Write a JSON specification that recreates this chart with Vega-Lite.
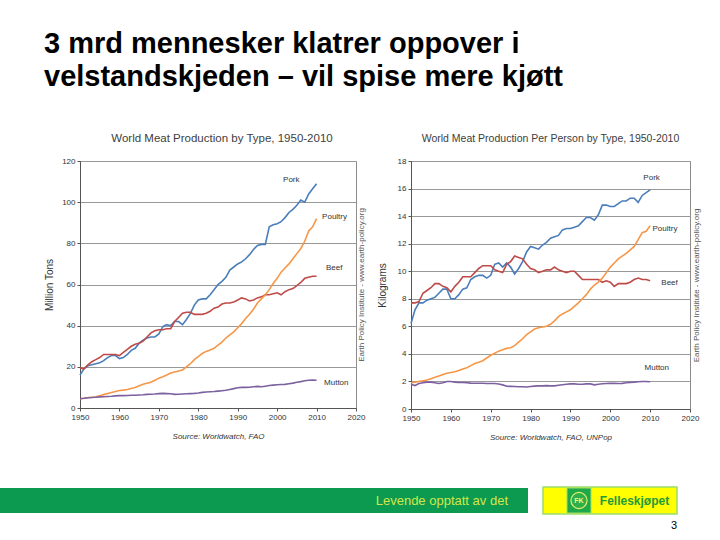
{
  "$schema": "https://vega.github.io/schema/vega-lite/v6.json",
  "padding": {"left": 0, "top": 30, "right": 0, "bottom": 0},
  "background": "white",
  "title": {
    "text": ["3 mrd mennesker klatrer oppover i", "velstandskjeden – vil spise mere kjøtt"],
    "anchor": "start", "frame": "bounds", "dx": 44, "fontSize": 29, "font": "Liberation Sans",
    "fontWeight": "bold", "color": "#000000", "lineHeight": 33, "offset": 40
  },
  "config": {
    "font": "Liberation Sans",
    "view": {"stroke": "#8c8c8c", "strokeWidth": 1},
    "axis": {
      "labelFont": "Liberation Sans", "labelFontSize": 8, "labelColor": "#333333", "labelOverlap": false,
      "titleFont": "Liberation Sans", "titleFontSize": 10, "titleFontWeight": "normal", "titleColor": "#333333",
      "domainColor": "#555555", "tickColor": "#555555", "tickSize": 3, "labelPadding": 2,
      "gridColor": "#999999", "gridWidth": 1
    },
    "title": {"font": "Liberation Sans", "fontSize": 10.5, "fontWeight": "normal", "color": "#404040", "offset": 14},
    "concat": {"spacing": 10}
  },
  "datasets": {
    "prod": [
      {"year":1950,"Pork":16,"Beef":19.5,"Poultry":4.5,"Mutton":4.5},
      {"year":1951,"Pork":19,"Beef":19,"Poultry":4.7,"Mutton":4.7},
      {"year":1952,"Pork":20.5,"Beef":21,"Poultry":5,"Mutton":5},
      {"year":1953,"Pork":21,"Beef":22.5,"Poultry":5.2,"Mutton":5.1},
      {"year":1954,"Pork":21.5,"Beef":23.5,"Poultry":5.5,"Mutton":5.2},
      {"year":1955,"Pork":22,"Beef":24.5,"Poultry":6,"Mutton":5.4},
      {"year":1956,"Pork":23,"Beef":26,"Poultry":6.5,"Mutton":5.5},
      {"year":1957,"Pork":24.5,"Beef":26,"Poultry":7,"Mutton":5.6},
      {"year":1958,"Pork":25.5,"Beef":26,"Poultry":7.5,"Mutton":5.7},
      {"year":1959,"Pork":25.5,"Beef":26,"Poultry":8,"Mutton":5.9},
      {"year":1960,"Pork":24,"Beef":25.5,"Poultry":8.5,"Mutton":6},
      {"year":1961,"Pork":24.5,"Beef":27,"Poultry":8.7,"Mutton":6},
      {"year":1962,"Pork":26,"Beef":28.5,"Poultry":9,"Mutton":6.1},
      {"year":1963,"Pork":28,"Beef":30,"Poultry":9.5,"Mutton":6.2},
      {"year":1964,"Pork":29,"Beef":31,"Poultry":10,"Mutton":6.2},
      {"year":1965,"Pork":31.5,"Beef":31.5,"Poultry":10.8,"Mutton":6.3},
      {"year":1966,"Pork":33,"Beef":32.5,"Poultry":11.5,"Mutton":6.4},
      {"year":1967,"Pork":34,"Beef":34.5,"Poultry":12,"Mutton":6.6},
      {"year":1968,"Pork":34.5,"Beef":36.5,"Poultry":12.5,"Mutton":6.7},
      {"year":1969,"Pork":34.5,"Beef":37.5,"Poultry":13.5,"Mutton":6.8},
      {"year":1970,"Pork":36,"Beef":38,"Poultry":14.5,"Mutton":7},
      {"year":1971,"Pork":39.5,"Beef":38,"Poultry":15.2,"Mutton":7.1},
      {"year":1972,"Pork":40.5,"Beef":38.5,"Poultry":16,"Mutton":7},
      {"year":1973,"Pork":40,"Beef":38.5,"Poultry":17,"Mutton":6.9},
      {"year":1974,"Pork":42,"Beef":42,"Poultry":17.5,"Mutton":6.6},
      {"year":1975,"Pork":42,"Beef":44,"Poultry":18,"Mutton":6.7},
      {"year":1976,"Pork":40.5,"Beef":46,"Poultry":18.5,"Mutton":6.8},
      {"year":1977,"Pork":43,"Beef":46.5,"Poultry":20,"Mutton":6.9},
      {"year":1978,"Pork":46,"Beef":46.5,"Poultry":21.5,"Mutton":7},
      {"year":1979,"Pork":50,"Beef":45.5,"Poultry":23.5,"Mutton":7.1},
      {"year":1980,"Pork":52.5,"Beef":45.5,"Poultry":25,"Mutton":7.3},
      {"year":1981,"Pork":53,"Beef":45.5,"Poultry":26.5,"Mutton":7.6},
      {"year":1982,"Pork":53,"Beef":46,"Poultry":27.5,"Mutton":7.8},
      {"year":1983,"Pork":55,"Beef":47,"Poultry":28.2,"Mutton":7.9},
      {"year":1984,"Pork":57.5,"Beef":48.5,"Poultry":29,"Mutton":8},
      {"year":1985,"Pork":60,"Beef":49,"Poultry":30.5,"Mutton":8.2},
      {"year":1986,"Pork":61.5,"Beef":50.5,"Poultry":32,"Mutton":8.4},
      {"year":1987,"Pork":63.5,"Beef":51,"Poultry":34,"Mutton":8.6},
      {"year":1988,"Pork":67,"Beef":51,"Poultry":35.5,"Mutton":9},
      {"year":1989,"Pork":68.5,"Beef":51.5,"Poultry":37,"Mutton":9.4},
      {"year":1990,"Pork":70,"Beef":52.5,"Poultry":39,"Mutton":9.8},
      {"year":1991,"Pork":71,"Beef":53.5,"Poultry":41,"Mutton":10},
      {"year":1992,"Pork":72.5,"Beef":53,"Poultry":43.5,"Mutton":10},
      {"year":1993,"Pork":74.5,"Beef":52,"Poultry":45.5,"Mutton":10.1},
      {"year":1994,"Pork":77,"Beef":52.5,"Poultry":48,"Mutton":10.3},
      {"year":1995,"Pork":79,"Beef":53.5,"Poultry":51,"Mutton":10.5},
      {"year":1996,"Pork":79.5,"Beef":54,"Poultry":53,"Mutton":10.3},
      {"year":1997,"Pork":79.5,"Beef":55,"Poultry":55,"Mutton":10.6},
      {"year":1998,"Pork":88,"Beef":55,"Poultry":57.5,"Mutton":10.9},
      {"year":1999,"Pork":89,"Beef":55.5,"Poultry":60.5,"Mutton":11.1},
      {"year":2000,"Pork":89.5,"Beef":56,"Poultry":63,"Mutton":11.3},
      {"year":2001,"Pork":90.5,"Beef":55,"Poultry":66,"Mutton":11.4},
      {"year":2002,"Pork":92.5,"Beef":56.5,"Poultry":68,"Mutton":11.5},
      {"year":2003,"Pork":95,"Beef":57.5,"Poultry":70,"Mutton":11.8},
      {"year":2004,"Pork":96.5,"Beef":58,"Poultry":72.5,"Mutton":12.1},
      {"year":2005,"Pork":98.5,"Beef":59.5,"Poultry":75,"Mutton":12.5},
      {"year":2006,"Pork":101,"Beef":61,"Poultry":77.5,"Mutton":12.8},
      {"year":2007,"Pork":100,"Beef":63,"Poultry":81,"Mutton":13.2},
      {"year":2008,"Pork":104,"Beef":63.5,"Poultry":86,"Mutton":13.5},
      {"year":2009,"Pork":106.5,"Beef":64,"Poultry":88,"Mutton":13.6},
      {"year":2010,"Pork":109,"Beef":64,"Poultry":92,"Mutton":13.5}
    ],
    "pp": [
      {"year":1950,"Pork":6.2,"Beef":7.7,"Poultry":1.9,"Mutton":1.8},
      {"year":1951,"Pork":7.2,"Beef":7.7,"Poultry":1.95,"Mutton":1.7},
      {"year":1952,"Pork":7.7,"Beef":7.8,"Poultry":2.0,"Mutton":1.85},
      {"year":1953,"Pork":7.7,"Beef":8.4,"Poultry":2.05,"Mutton":1.9},
      {"year":1954,"Pork":7.9,"Beef":8.6,"Poultry":2.1,"Mutton":1.95},
      {"year":1955,"Pork":8.0,"Beef":8.8,"Poultry":2.2,"Mutton":1.95},
      {"year":1956,"Pork":8.1,"Beef":9.1,"Poultry":2.3,"Mutton":1.9},
      {"year":1957,"Pork":8.4,"Beef":9.1,"Poultry":2.4,"Mutton":1.85},
      {"year":1958,"Pork":8.7,"Beef":8.9,"Poultry":2.5,"Mutton":1.9},
      {"year":1959,"Pork":8.7,"Beef":8.8,"Poultry":2.6,"Mutton":2.0},
      {"year":1960,"Pork":8.0,"Beef":8.5,"Poultry":2.65,"Mutton":2.0},
      {"year":1961,"Pork":8.0,"Beef":8.9,"Poultry":2.7,"Mutton":1.95},
      {"year":1962,"Pork":8.3,"Beef":9.2,"Poultry":2.8,"Mutton":1.92},
      {"year":1963,"Pork":8.7,"Beef":9.6,"Poultry":2.9,"Mutton":1.92},
      {"year":1964,"Pork":8.8,"Beef":9.6,"Poultry":3.0,"Mutton":1.9},
      {"year":1965,"Pork":9.4,"Beef":9.6,"Poultry":3.15,"Mutton":1.88},
      {"year":1966,"Pork":9.6,"Beef":9.9,"Poultry":3.3,"Mutton":1.87},
      {"year":1967,"Pork":9.7,"Beef":10.2,"Poultry":3.4,"Mutton":1.87},
      {"year":1968,"Pork":9.7,"Beef":10.4,"Poultry":3.5,"Mutton":1.87},
      {"year":1969,"Pork":9.5,"Beef":10.4,"Poultry":3.7,"Mutton":1.85},
      {"year":1970,"Pork":9.7,"Beef":10.4,"Poultry":3.9,"Mutton":1.85},
      {"year":1971,"Pork":10.5,"Beef":10.1,"Poultry":4.05,"Mutton":1.85},
      {"year":1972,"Pork":10.6,"Beef":10.0,"Poultry":4.2,"Mutton":1.82},
      {"year":1973,"Pork":10.3,"Beef":9.9,"Poultry":4.3,"Mutton":1.75},
      {"year":1974,"Pork":10.6,"Beef":10.5,"Poultry":4.4,"Mutton":1.65},
      {"year":1975,"Pork":10.3,"Beef":10.7,"Poultry":4.45,"Mutton":1.64},
      {"year":1976,"Pork":9.8,"Beef":11.1,"Poultry":4.6,"Mutton":1.63},
      {"year":1977,"Pork":10.2,"Beef":11.0,"Poultry":4.85,"Mutton":1.62},
      {"year":1978,"Pork":10.7,"Beef":10.9,"Poultry":5.1,"Mutton":1.62},
      {"year":1979,"Pork":11.4,"Beef":10.5,"Poultry":5.4,"Mutton":1.6},
      {"year":1980,"Pork":11.8,"Beef":10.2,"Poultry":5.6,"Mutton":1.63},
      {"year":1981,"Pork":11.7,"Beef":10.1,"Poultry":5.8,"Mutton":1.66},
      {"year":1982,"Pork":11.6,"Beef":9.9,"Poultry":5.9,"Mutton":1.68},
      {"year":1983,"Pork":11.9,"Beef":10.0,"Poultry":5.95,"Mutton":1.68},
      {"year":1984,"Pork":12.1,"Beef":10.1,"Poultry":6.0,"Mutton":1.7},
      {"year":1985,"Pork":12.4,"Beef":10.1,"Poultry":6.15,"Mutton":1.68},
      {"year":1986,"Pork":12.5,"Beef":10.3,"Poultry":6.4,"Mutton":1.68},
      {"year":1987,"Pork":12.6,"Beef":10.1,"Poultry":6.7,"Mutton":1.72},
      {"year":1988,"Pork":13.0,"Beef":10.0,"Poultry":6.9,"Mutton":1.76},
      {"year":1989,"Pork":13.1,"Beef":9.9,"Poultry":7.05,"Mutton":1.8},
      {"year":1990,"Pork":13.1,"Beef":10.0,"Poultry":7.2,"Mutton":1.82},
      {"year":1991,"Pork":13.2,"Beef":10.0,"Poultry":7.45,"Mutton":1.82},
      {"year":1992,"Pork":13.3,"Beef":9.7,"Poultry":7.7,"Mutton":1.8},
      {"year":1993,"Pork":13.6,"Beef":9.4,"Poultry":8.0,"Mutton":1.8},
      {"year":1994,"Pork":13.9,"Beef":9.4,"Poultry":8.3,"Mutton":1.82},
      {"year":1995,"Pork":13.9,"Beef":9.4,"Poultry":8.7,"Mutton":1.82},
      {"year":1996,"Pork":13.7,"Beef":9.4,"Poultry":9.0,"Mutton":1.75},
      {"year":1997,"Pork":14.1,"Beef":9.4,"Poultry":9.2,"Mutton":1.8},
      {"year":1998,"Pork":14.8,"Beef":9.2,"Poultry":9.5,"Mutton":1.83},
      {"year":1999,"Pork":14.8,"Beef":9.3,"Poultry":9.9,"Mutton":1.85},
      {"year":2000,"Pork":14.7,"Beef":9.2,"Poultry":10.3,"Mutton":1.87},
      {"year":2001,"Pork":14.7,"Beef":8.9,"Poultry":10.6,"Mutton":1.86},
      {"year":2002,"Pork":14.9,"Beef":9.1,"Poultry":10.9,"Mutton":1.85},
      {"year":2003,"Pork":15.1,"Beef":9.1,"Poultry":11.1,"Mutton":1.86},
      {"year":2004,"Pork":15.1,"Beef":9.1,"Poultry":11.3,"Mutton":1.9},
      {"year":2005,"Pork":15.3,"Beef":9.2,"Poultry":11.55,"Mutton":1.93},
      {"year":2006,"Pork":15.3,"Beef":9.4,"Poultry":11.8,"Mutton":1.95},
      {"year":2007,"Pork":15.0,"Beef":9.5,"Poultry":12.3,"Mutton":1.98},
      {"year":2008,"Pork":15.5,"Beef":9.4,"Poultry":12.8,"Mutton":2.0},
      {"year":2009,"Pork":15.7,"Beef":9.4,"Poultry":12.9,"Mutton":2.0},
      {"year":2010,"Pork":15.9,"Beef":9.3,"Poultry":13.3,"Mutton":1.98}
    ],
    "labProd": [
      {"s":"Pork","year":2001.5,"ly":110.8},
      {"s":"Poultry","year":2011.4,"ly":92.8},
      {"s":"Beef","year":2012.4,"ly":68},
      {"s":"Mutton","year":2011.9,"ly":12.1}
    ],
    "labPP": [
      {"s":"Pork","year":2008.3,"ly":16.8},
      {"s":"Poultry","year":2010.6,"ly":13.04},
      {"s":"Beef","year":2012.8,"ly":9.11},
      {"s":"Mutton","year":2008.6,"ly":2.94}
    ],
    "footer": [
      {"k":"bar","a":0,"b":528,"t":4,"u":29},
      {"k":"logo","a":543,"b":677,"t":3,"u":30},
      {"k":"sq","a":567,"b":591,"t":4,"u":29},
      {"k":"circ","a":579,"t":16.5},
      {"k":"fk","a":579,"t":16.8,"txt":"FK"},
      {"k":"brand","a":634.5,"t":17,"txt":"Felleskjøpet"},
      {"k":"slogan","a":508,"t":17,"txt":"Levende opptatt av det"},
      {"k":"page","a":677,"t":42,"txt":"3"}
    ]
  },
  "vconcat": [
    {
      "hconcat": [
        {
          "width": 34, "height": 10,
          "view": {"stroke": null},
          "data": {"values": [{"z": 0}]},
          "mark": {"type": "text", "text": ""},
          "encoding": {}
        },
        {
          "width": 276, "height": 247,
          "title": {"text": "World Meat Production by Type, 1950-2010", "fontSize": 11.5, "offset": 13, "dx": 4},
          "encoding": {
            "x": {"field": "year", "type": "quantitative",
              "scale": {"domain": [1950, 2020], "nice": false, "zero": false},
              "axis": {"values": [1950,1960,1970,1980,1990,2000,2010,2020], "format": "d", "grid": false, "labelOverlap": false, "labelSeparation": 0,
                "title": "Source: Worldwatch, FAO", "titleFontStyle": "italic", "titleFontSize": 8, "titlePadding": 11, "labelFlush": false}}
          },
          "layer": [
            {
              "data": {"name": "prod"},
              "transform": [{"fold": ["Pork", "Beef", "Poultry", "Mutton"], "as": ["s", "v"]}],
              "mark": {"type": "line", "strokeWidth": 1.6},
              "encoding": {
                "y": {"field": "v", "type": "quantitative",
                  "scale": {"domain": [0, 120], "nice": false},
                  "axis": {"values": [0,20,40,60,80,100,120], "title": "Million Tons", "titlePadding": 7, "grid": true}},
                "color": {"field": "s", "type": "nominal",
                  "scale": {"domain": ["Pork", "Poultry", "Beef", "Mutton"], "range": ["#4a7ebb", "#f79646", "#be4b48", "#7d60a0"]},
                  "legend": null},
                "detail": {"field": "s"}
              }
            },
            {
              "data": {"name": "labProd"},
              "mark": {"type": "text", "align": "left", "baseline": "middle", "fontSize": 8, "color": "#333333"},
              "encoding": {
                "y": {"field": "ly", "type": "quantitative",
                  "axis": {"orient": "right", "title": "Earth Policy Institute - www.earth-policy.org", "titleAngle": 270, "titleBaseline": "top",
                    "titleFontSize": 8, "titleColor": "#555555", "titlePadding": 1, "labels": false, "ticks": false, "domain": false, "grid": false}},
                "text": {"field": "s"}
              }
            }
          ],
          "resolve": {"axis": {"y": "independent"}}
        },
        {
          "width": 279, "height": 248,
          "title": {"text": "World Meat Production Per Person by Type, 1950-2010", "offset": 13},
          "encoding": {
            "x": {"field": "year", "type": "quantitative",
              "scale": {"domain": [1950, 2020], "nice": false, "zero": false},
              "axis": {"values": [1950,1960,1970,1980,1990,2000,2010,2020], "format": "d", "grid": false, "labelOverlap": false, "labelSeparation": 0,
                "title": "Source: Worldwatch, FAO, UNPop", "titleFontStyle": "italic", "titleFontSize": 8, "titlePadding": 11, "labelFlush": false}}
          },
          "layer": [
            {
              "data": {"name": "pp"},
              "transform": [{"fold": ["Pork", "Beef", "Poultry", "Mutton"], "as": ["s", "v"]}],
              "mark": {"type": "line", "strokeWidth": 1.6},
              "encoding": {
                "y": {"field": "v", "type": "quantitative",
                  "scale": {"domain": [0, 18], "nice": false},
                  "axis": {"values": [0,2,4,6,8,10,12,14,16,18], "title": "Kilograms", "titlePadding": 10, "grid": true}},
                "color": {"field": "s", "type": "nominal",
                  "scale": {"domain": ["Pork", "Poultry", "Beef", "Mutton"], "range": ["#4a7ebb", "#f79646", "#be4b48", "#7d60a0"]},
                  "legend": null},
                "detail": {"field": "s"}
              }
            },
            {
              "data": {"name": "labPP"},
              "mark": {"type": "text", "align": "left", "baseline": "middle", "fontSize": 8, "color": "#333333"},
              "encoding": {
                "y": {"field": "ly", "type": "quantitative",
                  "axis": {"orient": "right", "title": "Earth Policy Institute - www.earth-policy.org", "titleAngle": 270, "titleBaseline": "top",
                    "titleFontSize": 8, "titleColor": "#555555", "titlePadding": 2, "labels": false, "ticks": false, "domain": false, "grid": false}},
                "text": {"field": "s"}
              }
            }
          ],
          "resolve": {"axis": {"y": "independent"}}
        }
      ]
    },
    {
      "width": 720, "height": 50,
      "view": {"stroke": null},
      "data": {"name": "footer"},
      "encoding": {
        "x": {"field": "a", "type": "quantitative", "scale": {"domain": [0, 720], "nice": false, "zero": false}, "axis": null},
        "y": {"field": "t", "type": "quantitative", "scale": {"domain": [0, 50], "nice": false, "zero": false, "reverse": true}, "axis": null}
      },
      "layer": [
        {"transform": [{"filter": "datum.k === 'bar'"}], "mark": {"type": "rect", "fill": "#0b9a4f"},
          "encoding": {"x2": {"field": "b"}, "y2": {"field": "u"}}},
        {"transform": [{"filter": "datum.k === 'logo'"}], "mark": {"type": "rect", "fill": "#ffff00", "stroke": "#9bdc6c", "strokeWidth": 1.5},
          "encoding": {"x2": {"field": "b"}, "y2": {"field": "u"}}},
        {"transform": [{"filter": "datum.k === 'sq'"}], "mark": {"type": "rect", "fill": "#1fa84a", "stroke": "#9bdc6c", "strokeWidth": 1},
          "encoding": {"x2": {"field": "b"}, "y2": {"field": "u"}}},
        {"transform": [{"filter": "datum.k === 'circ'"}], "mark": {"type": "point", "shape": "circle", "filled": true, "fill": "#2fae4c", "stroke": "#e5f06a", "strokeWidth": 1.2, "size": 260, "opacity": 1}},
        {"transform": [{"filter": "datum.k === 'fk'"}], "mark": {"type": "text", "fontSize": 7, "fontWeight": "bold", "color": "#f4f77a", "baseline": "middle"},
          "encoding": {"text": {"field": "txt"}}},
        {"transform": [{"filter": "datum.k === 'brand'"}], "mark": {"type": "text", "fontSize": 12, "fontWeight": "bold", "color": "#1f9a3c", "baseline": "middle", "font": "Liberation Sans"},
          "encoding": {"text": {"field": "txt"}}},
        {"transform": [{"filter": "datum.k === 'slogan'"}], "mark": {"type": "text", "fontSize": 13, "color": "#d4e64a", "align": "right", "baseline": "middle", "font": "Liberation Sans"},
          "encoding": {"text": {"field": "txt"}}},
        {"transform": [{"filter": "datum.k === 'page'"}], "mark": {"type": "text", "fontSize": 11, "color": "#000000", "align": "right", "baseline": "middle"},
          "encoding": {"text": {"field": "txt"}}}
      ]
    }
  ],
  "spacing": 42
}
